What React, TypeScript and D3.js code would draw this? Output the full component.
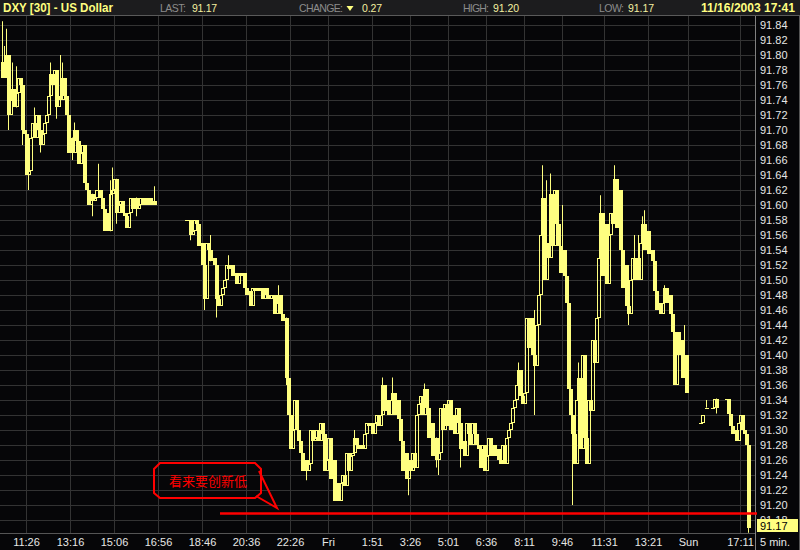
import React from 'react';
import * as d3 from 'd3';

// ---------- data ----------
const firstOpen = 91.77;
const closes: (number | null)[] = [
  91.79, 91.77, 91.80, 91.72, 91.74, 91.755, 91.73, 91.75, 91.77, 91.76,
  91.70, 91.695, 91.64, 91.645, 91.69, 91.71, 91.69, 91.72, 91.70, 91.68,
  91.695, 91.71, 91.72, 91.745, 91.775, 91.76, 91.78, 91.73, 91.745, 91.74,
  91.77, 91.745, 91.72, 91.67, 91.69, 91.67, 91.70, 91.685, 91.655, 91.67,
  91.68, 91.63, 91.62, 91.60, 91.615, 91.605, 91.61, 91.62, 91.62, 91.61,
  91.595, 91.565, 91.59, 91.565, 91.615, 91.62, 91.635, 91.59, 91.60, 91.605,
  91.59, 91.585, 91.57, 91.59, 91.61, 91.595, 91.61, 91.595, 91.60, 91.61,
  91.60, 91.61, 91.60, 91.61, 91.60, 91.605, 91.60, null, null, null,
  null, null, null, null, null, null, null, null, null, null,
  null, null, 91.58, 91.58, 91.56, 91.565, 91.58, 91.575, 91.545, 91.55,
  91.52, 91.475, 91.55, 91.54, 91.525, 91.53, 91.52, 91.475, 91.465, 91.48,
  91.49, 91.50, 91.52, 91.515, 91.52, 91.505, 91.51, 91.495, 91.51, 91.505,
  91.51, 91.49, 91.48, 91.485, 91.465, 91.49, 91.485, 91.49, 91.485, 91.49,
  91.475, 91.49, 91.48, 91.475, 91.48, 91.48, 91.455, 91.47, 91.48, 91.455,
  91.445, 91.45, 91.37, 91.32, 91.275, 91.30, 91.34, 91.30, 91.285, 91.27,
  91.245, 91.26, 91.245, 91.255, 91.30, 91.285, 91.29, 91.30, 91.285, 91.31,
  91.295, 91.245, 91.26, 91.29, 91.235, 91.26, 91.205, 91.23, 91.205, 91.23,
  91.24, 91.225, 91.27, 91.245, 91.265, 91.27, 91.29, 91.28, 91.275, 91.28,
  91.275, 91.295, 91.31, 91.305, 91.31, 91.295, 91.31, 91.32, 91.305, 91.32,
  91.36, 91.325, 91.34, 91.32, 91.34, 91.35, 91.32, 91.34, 91.315, 91.285,
  91.245, 91.27, 91.235, 91.26, 91.245, 91.27, 91.25, 91.32, 91.335, 91.345,
  91.32, 91.355, 91.33, 91.29, 91.31, 91.265, 91.29, 91.26, 91.27, 91.33,
  91.30, 91.335, 91.305, 91.34, 91.30, 91.32, 91.295, 91.33, 91.31, 91.275,
  91.285, 91.265, 91.31, 91.295, 91.28, 91.31, 91.295, 91.28, 91.275, 91.25,
  91.28, 91.245, 91.265, 91.29, 91.265, 91.28, 91.265, 91.275, 91.26, 91.255,
  91.28, 91.255, 91.29, 91.30, 91.31, 91.33, 91.34, 91.36, 91.38, 91.345,
  91.335, 91.35, 91.45, 91.41, 91.45, 91.40, 91.385, 91.44, 91.48, 91.56,
  91.61, 91.50, 91.55, 91.53, 91.615, 91.545, 91.62, 91.575, 91.545, 91.51,
  91.54, 91.505, 91.47, 91.355, 91.32, 91.295, 91.255, 91.34, 91.37, 91.275,
  91.40, 91.29, 91.255, 91.34, 91.325, 91.42, 91.39, 91.45, 91.53, 91.59,
  91.505, 91.575, 91.495, 91.56, 91.59, 91.575, 91.635, 91.57, 91.62, 91.54,
  91.49, 91.52, 91.465, 91.455, 91.50, 91.53, 91.50, 91.53, 91.50, 91.55,
  91.575, 91.54, 91.565, 91.535, 91.54, 91.525, 91.485, 91.46, 91.47, 91.455,
  91.47, 91.49, 91.47, 91.48, 91.455, 91.43, 91.36, 91.43, 91.40, 91.42,
  91.37, 91.40, 91.35, null, null, null, null, null, null, 91.31,
  91.32, null, 91.33, null, null, 91.33, 91.342, 91.33, null, null,
  null, null, 91.342, 91.322, 91.305, 91.295, 91.30, 91.285, 91.31, 91.32,
  91.30, 91.295, 91.28, 91.17,
];

const wickHighs: [number, number][] = [
  [0, 91.845], [1, 91.812], [2, 91.835], [5, 91.79], [7, 91.785], [16, 91.73],
  [24, 91.79], [29, 91.80], [30, 91.79], [36, 91.71], [48, 91.655], [54, 91.633],
  [55, 91.65], [76, 91.625], [104, 91.56], [113, 91.533], [138, 91.493], [176, 91.30],
  [190, 91.37], [195, 91.37], [211, 91.362], [258, 91.39], [266, 91.46], [270, 91.653],
  [272, 91.633], [274, 91.642], [280, 91.60], [288, 91.39], [299, 91.613], [306, 91.653],
  [316, 91.56], [318, 91.56], [320, 91.585], [321, 91.593], [331, 91.493], [341, 91.44],
  [352, 91.34],
];
const wickLows: [number, number][] = [
  [3, 91.70], [10, 91.68], [13, 91.62], [19, 91.67], [27, 91.715], [35, 91.66],
  [45, 91.585], [57, 91.575], [67, 91.585], [94, 91.553], [101, 91.46], [107, 91.45],
  [142, 91.36], [152, 91.233], [203, 91.213], [217, 91.25], [218, 91.24], [229, 91.25],
  [266, 91.32], [285, 91.20], [313, 91.44], [357, 91.322], [373, 91.163],
];

const yTickValues = [
  91.84, 91.82, 91.80, 91.78, 91.76, 91.74, 91.72, 91.70, 91.68, 91.66, 91.64, 91.62,
  91.60, 91.58, 91.56, 91.54, 91.52, 91.50, 91.48, 91.46, 91.44, 91.42, 91.40, 91.38,
  91.36, 91.34, 91.32, 91.30, 91.28, 91.26, 91.24, 91.22, 91.20, 91.18,
];
const xTickLabels = [
  '11:26', '13:16', '15:06', '16:56', '18:46', '20:36', '22:26', 'Fri', '1:51',
  '3:26', '5:01', '6:36', '8:11', '9:46', '11:31', '13:21', 'Sun', '17:11',
];
const xTickIndex = [12, 34, 56, 78, 100, 122, 144, 163, 185, 204, 223, 242, 261, 280, 301, 323, 343, 369];

const titleText = 'DXY [30] - US Dollar';
const lastValue = '91.17';
const changeValue = '0.27';
const highValue = '91.20';
const lowValue = '91.17';
const dateText = '11/16/2003 17:41';
const noteText = '看来要创新低';
const targetLevel = 91.19;
const intervalText = '5 min.';

// ---------- chart ----------
const W = 800;
const H = 550;
const YEL = '#ffff80';
const GRID = '#333333';

export default function App() {
  const x = d3.scaleLinear().domain([0, closes.length - 1]).range([2, 748]);
  const y = d3.scaleLinear().domain([91.84, 91.18]).range([25, 520]);

  const hiMap = new Map(wickHighs);
  const loMap = new Map(wickLows);

  const candles: React.ReactNode[] = [];
  closes.forEach((c, i) => {
    if (c == null) return;
    const prev = i === 0 ? firstOpen : closes[i - 1];
    const o = prev == null ? c : prev;
    const top = Math.max(o, c);
    const bot = Math.min(o, c);
    const hi = Math.max(top, hiMap.get(i) ?? top);
    const lo = Math.min(bot, loMap.get(i) ?? bot);
    const xc = Math.round(x(i));
    const yt = Math.round(y(top));
    const yb = Math.round(y(bot));
    if (hi > top || lo < bot) {
      candles.push(
        <line key={'w' + i} x1={xc + 0.5} x2={xc + 0.5} y1={y(hi)} y2={y(lo)} stroke={YEL} strokeWidth={1} />
      );
    }
    if (c > o && yb - yt >= 2) {
      candles.push(
        <rect key={'c' + i} x={xc - 0.5} y={yt + 0.5} width={3} height={yb - yt - 1} fill="none" stroke={YEL} strokeWidth={1} />
      );
    } else {
      candles.push(
        <rect key={'c' + i} x={xc - 1} y={yt} width={4} height={Math.max(1, yb - yt)} fill={YEL} />
      );
    }
  });

  const font = 'Arial, "Liberation Sans", sans-serif';
  const lineY = Math.round(y(targetLevel)) + 0.5;

  return (
    <svg width={W} height={H} style={{ position: 'absolute', left: 0, top: 0 }} xmlns="http://www.w3.org/2000/svg">
      <rect x={0} y={0} width={W} height={H} fill="#060608" />

      {/* grid */}
      {yTickValues.map((v) => (
        <line key={'gy' + v} x1={0} x2={755} y1={Math.round(y(v)) + 0.5} y2={Math.round(y(v)) + 0.5} stroke={GRID} strokeWidth={1} />
      ))}
      {xTickIndex.map((i) => (
        <line key={'gx' + i} x1={Math.round(x(i)) + 0.5} x2={Math.round(x(i)) + 0.5} y1={16} y2={533} stroke={GRID} strokeWidth={1} />
      ))}

      {/* axes */}
      <line x1={755.5} x2={755.5} y1={16} y2={550} stroke="#808080" strokeWidth={1} />
      <line x1={0} x2={755} y1={533.5} y2={533.5} stroke="#555" strokeWidth={1} />
      <line x1={799.5} x2={799.5} y1={0} y2={550} stroke="#555" strokeWidth={1} />

      {/* candles */}
      <g>{candles}</g>

      {/* right labels */}
      {yTickValues.map((v) => (
        <text key={'ly' + v} x={760} y={Math.round(y(v)) + 4} fill="#e6e6e6" fontSize={11} fontFamily={font}>
          {v.toFixed(2)}
        </text>
      ))}

      {/* bottom labels */}
      {xTickIndex.map((i, k) => (
        <text key={'lx' + i} x={Math.round(x(i)) + 0.5} y={546} fill="#e6e6e6" fontSize={11} fontFamily={font} textAnchor="middle">
          {xTickLabels[k]}
        </text>
      ))}
      <text x={760} y={546} fill="#e6e6e6" fontSize={11} fontFamily={font}>{intervalText}</text>

      {/* annotation */}
      <line x1={220} x2={757} y1={lineY} y2={lineY} stroke="#ff0000" strokeWidth={2.5} />
      <path
        d="M160,463 L255,463 L261,469 L261,493 L255,498 L160,498 L154,493 L154,469 Z"
        fill="none" stroke="#ff0000" strokeWidth={2}
      />
      <polyline points="259,471 277,508 256,496" fill="none" stroke="#ff0000" strokeWidth={2} />
      <text x={208} y={486} fill="#ff0000" fontSize={13} textAnchor="middle"
        fontFamily='"Noto Sans CJK SC", sans-serif'>{noteText}</text>

      {/* last price box */}
      <rect x={757} y={519} width={41} height={13} fill={YEL} />
      <text x={760} y={530} fill="#000" fontSize={11} fontFamily={font}>{lastValue}</text>

      {/* header */}
      <rect x={0} y={0} width={W} height={15} fill="#1c1c1e" />
      <line x1={0} x2={W} y1={15.5} y2={15.5} stroke="#5a5a5a" strokeWidth={1} />
      <text x={3} y={12} fill={YEL} fontSize={12.5} fontWeight="bold" fontFamily={font} textLength={110} lengthAdjust="spacingAndGlyphs">{titleText}</text>
      <text x={160} y={12} fill="#8c8c8c" fontSize={10.5} fontFamily={font} textLength={26}>LAST:</text>
      <text x={192} y={12} fill="#f4f0a0" fontSize={10.5} fontFamily={font} textLength={25}>{lastValue}</text>
      <text x={299} y={12} fill="#8c8c8c" fontSize={10.5} fontFamily={font} textLength={44}>CHANGE:</text>
      <path d="M346.5,6 L353.5,6 L350,11 Z" fill={YEL} />
      <text x={362} y={12} fill="#f4f0a0" fontSize={10.5} fontFamily={font} textLength={20}>{changeValue}</text>
      <text x={463} y={12} fill="#8c8c8c" fontSize={10.5} fontFamily={font} textLength={26}>HIGH:</text>
      <text x={493} y={12} fill="#f4f0a0" fontSize={10.5} fontFamily={font} textLength={26}>{highValue}</text>
      <text x={599} y={12} fill="#8c8c8c" fontSize={10.5} fontFamily={font} textLength={25}>LOW:</text>
      <text x={628} y={12} fill="#f4f0a0" fontSize={10.5} fontFamily={font} textLength={26}>{lowValue}</text>
      <text x={701} y={12} fill={YEL} fontSize={12.5} fontWeight="bold" fontFamily={font} textLength={94} lengthAdjust="spacingAndGlyphs">{dateText}</text>
    </svg>
  );
}
